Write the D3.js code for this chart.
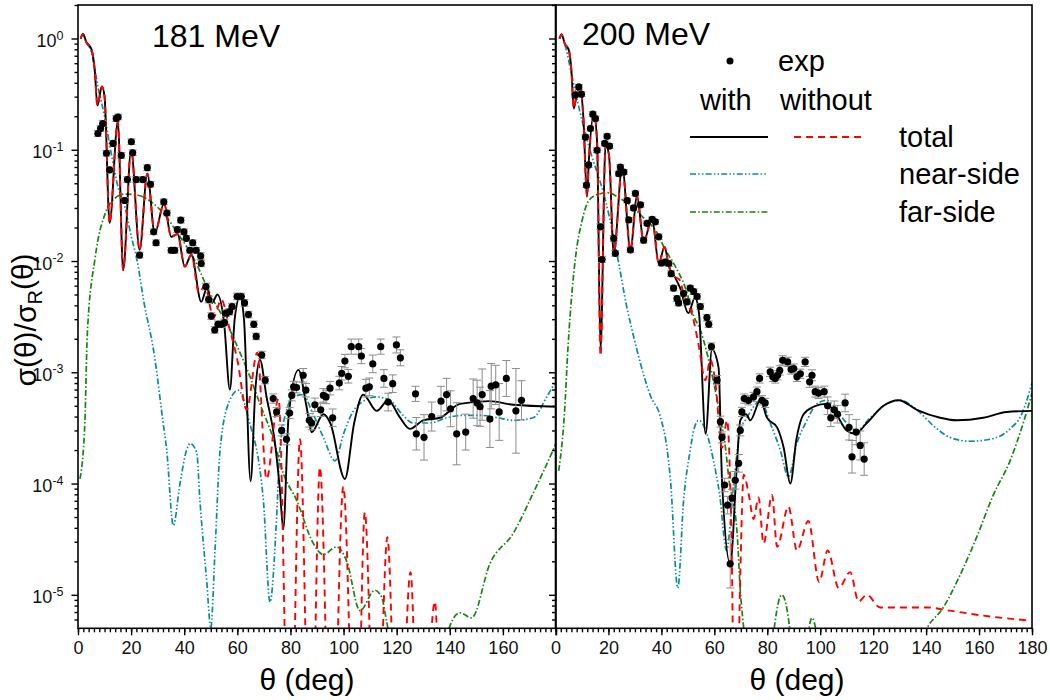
<!DOCTYPE html>
<html>
<head>
<meta charset="utf-8">
<script src="https://cdn.jsdelivr.net/npm/d3@7"></script>
<style>
  body { margin: 0; background: #fff; }
  text { font-family: "Liberation Sans", Arial, sans-serif; }
</style>
</head>
<body>
<script>
// ---- data: [theta (deg), sigma/sigmaR] ----
var with181 = [[1,1.0],[1.9,1.1],[3.1,0.93],[5,0.81],[6.3,0.52],[7.3,0.25],[9,0.37],[10,0.30],[11.9,0.022],[15,0.178],[17,0.0083],[20,0.099],[23.2,0.0126],[26.1,0.061],[28.9,0.0177],[32.4,0.033],[35.1,0.0165],[37.5,0.0175],[40.2,0.0089],[42.7,0.0114],[46.4,0.0043],[48.5,0.0057],[50.5,0.0042],[52.5,0.0050],[55,0.0028],[57.2,0.0007],[59,0.0030],[61,0.0048],[62.5,0.0030],[65,1.05e-4],[66.8,7e-4],[68.5,0.0013],[71,6e-4],[74,2.5e-4],[76,9e-5],[77.3,3.9e-5],[79.3,4e-4],[83,1.05e-3],[86,5e-4],[88,2.9e-4],[92.4,4.2e-4],[95,3.5e-4],[100.5,1.1e-4],[104,3.5e-4],[107.4,6.3e-4],[112.5,4.5e-4],[116.8,5.6e-4],[121,4e-4],[125,3.1e-4],[130,3.7e-4],[136.3,3.9e-4],[143.8,5.2e-4],[155,5.5e-4],[164,5.1e-4],[180,4.9e-4]];
var without181 = [[1,1.0],[1.9,1.1],[3.1,0.93],[5,0.81],[6.3,0.52],[7.3,0.25],[9,0.37],[10,0.30],[11.9,0.022],[15,0.178],[17,0.0083],[20,0.099],[23.2,0.0126],[26.1,0.061],[28.9,0.0177],[32.4,0.033],[35.1,0.0165],[37.5,0.0175],[40.2,0.0089],[42.7,0.0114],[45.5,0.0052],[47.8,0.0060],[51,0.0031],[54,0.0045],[57,0.0025],[60,0.0013],[63.5,4.6e-4],[67.5,0.0015],[71,1.1e-4],[75.5,5.8e-4],[79.8,1e-7],[83.6,2.5e-4],[87.6,1e-7],[91.1,1.4e-4],[95.5,1e-7],[99.9,9.4e-5],[104.7,1e-7],[108,5.5e-5],[112.2,1e-7],[116.5,3.3e-5],[120.6,1e-7],[125.2,1.6e-5],[128.8,1e-7],[134.4,8.7e-6],[137.5,1e-7],[180,1e-7]];
var near181 = [[1,1.0],[1.9,1.1],[3.1,0.93],[5,0.76],[7.5,0.37],[10,0.2],[12.5,0.093],[15.1,0.046],[17.6,0.031],[20.1,0.0165],[22.3,0.010],[24.8,0.0043],[28.6,0.0015],[32,3.6e-4],[33.4,2e-4],[35.9,4.2e-5],[38.4,1e-4],[40.9,2e-4],[42.2,2.3e-4],[44.7,1.9e-4],[45.9,7.1e-5],[48.5,1.3e-5],[50,5e-6],[51.6,2.5e-5],[53.5,2e-4],[57,5.5e-4],[60.4,6.9e-4],[64.1,3.9e-4],[69.8,7.1e-5],[72.3,8.6e-6],[74.8,5e-5],[76,2e-4],[78.6,4.6e-4],[81,6e-4],[84.8,6.3e-4],[88,4.5e-4],[92.4,2.6e-4],[96.8,1.6e-4],[100,2.8e-4],[104.9,4.9e-4],[112.4,6e-4],[117.5,5.6e-4],[122,4.2e-4],[126.2,3.5e-4],[132.5,3.5e-4],[138.8,3.9e-4],[145,4.1e-4],[151.4,4.1e-4],[158,3.9e-4],[164,3.7e-4],[171.4,3.9e-4],[176.5,6e-4],[180,8.4e-4]];
var far181 = [[0.75,1.1e-4],[2.6,3.6e-4],[3.5,0.0022],[6.4,0.0105],[8.3,0.019],[9.4,0.0234],[12.5,0.034],[17.6,0.040],[22.6,0.039],[27.6,0.034],[32.6,0.026],[37.6,0.0177],[43.9,0.0102],[50.2,0.0048],[56.5,0.0026],[61,0.0015],[64.8,9.1e-4],[68.5,5.2e-4],[73.4,2.6e-4],[77.5,1.2e-4],[82.3,7.1e-5],[88.6,2.9e-5],[92.4,2.3e-5],[97.4,2.7e-5],[101.2,2.0e-5],[106.2,7.2e-6],[111.8,1.1e-5],[114.3,9.6e-6],[116.2,5.8e-6],[120,2e-6],[130,1e-6],[137,2.5e-6],[140,5.2e-6],[143.8,6.9e-6],[148.2,6.2e-6],[155.1,1.9e-5],[164,3.6e-5],[171.4,8.2e-5],[178.9,2e-4],[180,2.3e-4]];
// exp: [theta, sigma/sigmaR, error factor]
var exp181 = [[7.5,0.140,1.06],[8.5,0.155,1.06],[9.3,0.172,1.06],[10.7,0.093,1.06],[11.9,0.066,1.06],[13.2,0.114,1.06],[14.4,0.191,1.06],[15.1,0.197,1.06],[16.3,0.089,1.06],[17.6,0.035,1.06],[18.6,0.054,1.06],[20.1,0.118,1.06],[20.6,0.094,1.06],[21.9,0.054,1.06],[23.2,0.0113,1.06],[24.4,0.054,1.06],[26.1,0.069,1.06],[27.3,0.049,1.06],[28.5,0.0183,1.06],[29.4,0.0146,1.06],[32.3,0.034,1.06],[33.5,0.027,1.06],[35.1,0.0125,1.06],[36.4,0.0125,1.06],[37.4,0.0192,1.06],[38.7,0.0233,1.06],[39.9,0.0183,1.06],[40.8,0.016,1.06],[42.1,0.0125,1.06],[43.2,0.0146,1.06],[44.5,0.0125,1.06],[46.2,0.0111,1.07],[46.4,0.0095,1.07],[48.2,0.0059,1.07],[49.2,0.0045,1.07],[50.2,0.0032,1.07],[51.5,0.0024,1.07],[52.7,0.0027,1.07],[54,0.0027,1.07],[55.2,0.0028,1.07],[55.8,0.0034,1.07],[57.1,0.0035,1.07],[58,0.0039,1.07],[59.9,0.0048,1.07],[61.5,0.0048,1.07],[62.7,0.0042,1.07],[64.2,0.0033,1.07],[66.2,0.0027,1.07],[67.1,0.0021,1.07],[69.2,0.00143,1.08],[70.5,8.5e-4,1.08],[73.5,5.8e-4,1.1],[74.8,4.4e-4,1.1],[76.7,3.0e-4,1.12],[78.5,2.5e-4,1.12],[79.7,4.3e-4,1.12],[80.5,6.2e-4,1.12],[81.2,7.4e-4,1.12],[82.3,7.3e-4,1.12],[84.8,9.4e-4,1.15],[85.8,6.9e-4,1.15],[87.1,3.7e-4,1.15],[88,3.5e-4,1.15],[89.2,5.1e-4,1.15],[91.4,4.6e-4,1.15],[92.4,6.2e-4,1.15],[93.4,6.0e-4,1.15],[94.9,7.2e-4,1.15],[95.9,3.9e-4,1.2],[98.4,8.0e-4,1.15],[99.3,9.8e-4,1.15],[100.5,1.26e-3,1.15],[101.8,9.2e-4,1.15],[102.9,1.7e-3,1.17],[105.7,1.7e-3,1.17],[106.7,1.4e-3,1.17],[108.4,7.2e-4,1.2],[109.7,7.4e-4,1.2],[111,1.19e-3,1.2],[114,1.7e-3,1.17],[115.2,8.8e-4,1.2],[116.8,5.4e-4,1.2],[118.5,7.9e-4,1.2],[119.9,1.76e-3,1.18],[121.4,1.35e-3,1.18],[127.1,6.4e-4,1.17],[127.4,2.8e-4,1.4],[130.3,2.6e-4,1.6],[133.2,4.0e-4,1.35],[136.7,5.5e-4,1.36],[138.8,6.3e-4,1.4],[140.3,4.7e-4,1.45],[142.6,2.8e-4,1.9],[146,2.9e-4,1.45],[148.8,5.8e-4,1.5],[150.3,5.3e-4,1.6],[151.4,4.9e-4,1.5],[152.2,6.3e-4,1.7],[155.1,3.8e-4,1.8],[155.6,7.5e-4,1.6],[157.3,7.7e-4,1.5],[158.6,4.4e-4,1.8],[161.3,8.8e-4,1.45],[164.9,4.5e-4,2.4],[167,5.6e-4,1.5]];

var with200 = [[1.5,1.0],[2.3,1.09],[3.5,0.9],[5,0.79],[6,0.52],[6.9,0.235],[8.2,0.33],[9.4,0.355],[10.5,0.2],[11.9,0.038],[12.6,0.08],[14.5,0.212],[15.7,0.12],[17,0.0016],[18.9,0.11],[20.2,0.09],[22,0.0117],[25.2,0.070],[28.3,0.0126],[30.8,0.038],[33.3,0.015],[36.5,0.024],[39,0.0095],[41.2,0.0134],[42.8,0.009],[45.2,0.0071],[47.1,0.0057],[50.2,0.0034],[52.7,0.0047],[54.2,0.0034],[56.7,2.8e-4],[59.1,0.0016],[61.6,0.0011],[62.9,1.07e-4],[66,1.9e-5],[68.6,1.6e-4],[69.8,3.7e-4],[72,4.2e-4],[73.6,3.7e-4],[77.4,5.6e-4],[79.9,3.9e-4],[83.7,3.2e-4],[86.2,2.1e-4],[88.7,1.0e-4],[91,2.5e-4],[93.7,4.2e-4],[97.5,4.9e-4],[101.9,5.2e-4],[105,4.6e-4],[110,3e-4],[113.2,2.8e-4],[117.6,3.5e-4],[123.9,5e-4],[129.6,5.6e-4],[136.5,4.6e-4],[145.3,3.9e-4],[151.6,3.7e-4],[161.6,3.9e-4],[170.4,4.4e-4],[180,4.5e-4]];
var without200 = [[1.5,1.0],[2.3,1.09],[3.5,0.9],[5,0.79],[6,0.52],[6.9,0.235],[8.2,0.33],[9.4,0.355],[10.5,0.2],[11.9,0.038],[12.6,0.08],[14.5,0.212],[15.7,0.12],[17,0.0014],[18.9,0.11],[20.2,0.09],[22,0.0117],[25.2,0.070],[28.3,0.0126],[30.8,0.038],[33.3,0.015],[36.5,0.024],[39,0.0095],[41.2,0.0134],[42.8,0.009],[45.2,0.0072],[46.8,0.0068],[49,0.0045],[51.6,0.0033],[54,0.0018],[56.6,8.5e-4],[58.5,0.0013],[60.4,8e-4],[62.9,2.1e-4],[64.8,3.7e-4],[66.5,3e-5],[68,1e-7],[69.8,1.5e-5],[71.1,1.2e-4],[73,8e-5],[74.8,4.8e-5],[76.7,7.5e-5],[78.6,2.9e-5],[81.8,7.9e-5],[83.7,2.7e-5],[88,6.2e-5],[91.2,2.5e-5],[95.5,4.6e-5],[99.6,1.3e-5],[102.8,2.5e-5],[107,1.15e-5],[111.3,1.6e-5],[114.5,8.7e-6],[117.6,1e-5],[122.6,7.7e-6],[130.2,7.7e-6],[140.3,7.7e-6],[149,7.2e-6],[161.6,6.5e-6],[178,5.9e-6]];
var near200 = [[1.5,1.0],[2.3,1.09],[3.8,0.84],[6.3,0.45],[8.8,0.243],[11.3,0.14],[13.8,0.086],[16.3,0.057],[18.9,0.035],[21.4,0.019],[23.9,0.0095],[26.8,0.0040],[29.5,0.0021],[32.1,0.0012],[35.8,6.2e-4],[39.6,4e-4],[42.2,2e-4],[43.4,1.1e-4],[46.2,1.15e-5],[48.4,7.1e-5],[50.9,2e-4],[52.2,3e-4],[54.1,3.7e-4],[57.2,2.8e-4],[59.7,1.6e-4],[62,8e-5],[64.6,2.5e-5],[67.3,1e-4],[69.8,3e-4],[72.3,3.9e-4],[74.8,4.9e-4],[77.4,5.6e-4],[81.1,3.5e-4],[84.9,2e-4],[88,1.15e-4],[91.2,2.3e-4],[95,3.7e-4],[98.7,5.2e-4],[102.5,5.6e-4],[105,5e-4],[110,3.5e-4],[113.8,3e-4],[118.9,3.9e-4],[125.2,5.2e-4],[130.2,5.6e-4],[136.5,4.6e-4],[142.8,3.3e-4],[149,2.6e-4],[156.6,2.4e-4],[164.2,2.5e-4],[171.7,3.1e-4],[176.1,4.2e-4],[180,8e-4]];
var far200 = [[1.2,1.3e-4],[3.3,4e-4],[4.8,0.0018],[6.3,0.0055],[7.5,0.0105],[10.1,0.0234],[12.6,0.035],[16.3,0.040],[20.1,0.041],[23.9,0.037],[28.9,0.031],[34,0.0234],[37.7,0.019],[41.5,0.0126],[45.3,0.0089],[49,0.0058],[52.2,0.0032],[54.7,0.0024],[57.2,0.0015],[59.7,8.2e-4],[62.3,3.9e-4],[64.2,2.1e-4],[65.4,1.15e-4],[68.6,3.6e-5],[69.8,1.1e-5],[71.3,4.5e-6],[74,1e-6],[80,1e-6],[82.4,4.5e-6],[85.5,1e-5],[88.7,4.5e-6],[91,1e-6],[94,1e-6],[95.6,4.6e-6],[96.9,6.2e-6],[98.5,4.6e-6],[101,1e-6],[130,1e-6],[140.3,5e-6],[146.5,7.7e-6],[152.8,1.5e-5],[159.1,3.3e-5],[165.4,7.9e-5],[171.7,1.6e-4],[176.7,3.5e-4],[180,6.5e-4]];
var exp200 = [[7.4,0.31,1.05],[8.8,0.367,1.05],[9.8,0.316,1.05],[11.3,0.130,1.05],[11.7,0.048,1.05],[12.5,0.073,1.05],[13.2,0.155,1.05],[14.1,0.209,1.05],[15.1,0.191,1.05],[15.7,0.099,1.05],[17,0.0203,1.06],[17.6,0.0103,1.06],[18.6,0.114,1.05],[19.5,0.132,1.05],[20.4,0.108,1.05],[22,0.016,1.06],[22.6,0.0117,1.06],[23.9,0.061,1.05],[24.5,0.070,1.05],[25.8,0.063,1.05],[27.1,0.035,1.05],[27.7,0.0234,1.05],[28.3,0.0126,1.06],[29.5,0.030,1.05],[30.2,0.0405,1.05],[32.1,0.032,1.05],[33.3,0.0154,1.06],[34.6,0.0218,1.05],[36.5,0.0237,1.05],[37.7,0.0225,1.05],[39,0.0165,1.06],[40,0.0096,1.06],[41.5,0.0098,1.06],[42.8,0.0095,1.06],[43.7,0.0077,1.06],[44.6,0.0057,1.06],[45.9,0.0046,1.06],[46.5,0.0042,1.06],[48.4,0.0051,1.06],[49.7,0.0043,1.06],[50.9,0.0057,1.06],[52.2,0.0053,1.06],[53.5,0.0048,1.06],[54.7,0.0039,1.06],[57.2,0.0031,1.07],[57.9,0.0027,1.07],[58.9,0.0017,1.08],[61,8.5e-4,1.1],[62.3,3.6e-4,1.12],[62.9,2.6e-4,1.12],[63.9,9.7e-5,1.15],[65,6.4e-5,1.2],[66,1.9e-5,1.65],[66.7,7.4e-5,1.2],[67.9,1.07e-4,1.2],[69.2,1.52e-4,1.2],[69.8,3.0e-4,1.12],[70.4,4.4e-4,1.1],[71.3,5.8e-4,1.1],[72.9,5.6e-4,1.1],[74.8,6.0e-4,1.1],[76.1,6.7e-4,1.1],[77.1,8.8e-4,1.1],[78,5.6e-4,1.1],[79.2,5.3e-4,1.1],[81.1,1.01e-3,1.1],[82.1,9.1e-4,1.1],[83,8.8e-4,1.1],[83.9,9.4e-4,1.1],[84.7,1.04e-3,1.1],[85.8,1.28e-3,1.1],[87.7,1.24e-3,1.1],[89,1.06e-3,1.1],[90,1.08e-3,1.1],[91.2,9.1e-4,1.1],[92.5,9.7e-4,1.1],[94.3,1.24e-3,1.1],[96,8.2e-4,1.12],[96.9,9.4e-4,1.12],[98.1,6.7e-4,1.12],[99.4,6.5e-4,1.12],[101.5,6.7e-4,1.12],[102.8,5.0e-4,1.2],[104,3.9e-4,1.2],[105.3,4.6e-4,1.2],[106.5,4.2e-4,1.2],[109.4,5.3e-4,1.2],[110.9,3.2e-4,1.3],[112,1.74e-4,1.4],[113.6,2.9e-4,1.3],[115.1,2.2e-4,1.35],[116.6,1.66e-4,1.4]];

var titles = ["181 MeV", "200 MeV"];
var xMajor = [0, 20, 40, 60, 80, 100, 120, 140, 160, 180];
var yMajor = [1e-5, 1e-4, 1e-3, 1e-2, 1e-1, 1];

// ---- layout ----
var width = 1050, height = 700;
var plotTop = 5, plotBottom = 628.3;

var svg = d3.select("body").append("svg")
    .attr("width", width)
    .attr("height", height);

var y = d3.scaleLog().domain([5e-6, 2]).range([plotBottom, plotTop]);

// minor ticks
var xMinor = d3.range(0, 181, 2);
var yMinor = [];
[-6, -5, -4, -3, -2, -1, 0].forEach(function(e) {
  for (var m = 2; m <= 9; m++) {
    var v = m * Math.pow(10, e);
    if (v >= 5e-6 && v <= 2) yMinor.push(v);
  }
});

var panels = [
  {x0: 78, x1: 556, title: titles[0], tx: 152, ty: 47, lines: [near181, far181, with181, without181], exp: exp181, last: false},
  {x0: 555.5, x1: 1032, title: titles[1], tx: 582, ty: 45, lines: [near200, far200, with200, without200], exp: exp200, last: true}
];

var styles = [
  {stroke: "#0a8f8f", width: 1.7, dash: "6,2.2,1.5,2.2,1.5,2.2"},
  {stroke: "#13870f", width: 1.7, dash: "6,2.2,1.5,2.2"},
  {stroke: "#000", width: 1.9, dash: null},
  {stroke: "#ff0000", width: 1.9, dash: "7,5"}
];

panels.forEach(function(p, i) {
  var x = d3.scaleLinear().domain([0, 180]).range([p.x0, p.x1]);

  var clipId = "clip" + i;
  svg.append("clipPath").attr("id", clipId)
    .append("rect")
      .attr("x", p.x0).attr("y", plotTop)
      .attr("width", p.x1 - p.x0).attr("height", plotBottom - plotTop);

  var plot = svg.append("g").attr("clip-path", "url(#" + clipId + ")");

  var line = d3.line()
      .x(function(d) { return x(d[0]); })
      .y(function(d) { return y(d[1]); })
      .curve(d3.curveMonotoneX);

  p.lines.forEach(function(data, k) {
    plot.append("path")
        .datum(data)
        .attr("fill", "none")
        .attr("stroke", styles[k].stroke)
        .attr("stroke-width", styles[k].width)
        .attr("stroke-dasharray", styles[k].dash)
        .attr("d", line);
  });

  // error bars
  var eb = plot.append("g").attr("stroke", "#8c8c8c").attr("stroke-width", 1);
  p.exp.forEach(function(d) {
    var cx = x(d[0]), lo = y(d[1] / d[2]), hi = y(d[1] * d[2]);
    eb.append("line").attr("x1", cx).attr("x2", cx).attr("y1", lo).attr("y2", hi);
    eb.append("line").attr("x1", cx - 4).attr("x2", cx + 4).attr("y1", lo).attr("y2", lo);
    eb.append("line").attr("x1", cx - 4).attr("x2", cx + 4).attr("y1", hi).attr("y2", hi);
  });

  plot.selectAll("circle.exp")
      .data(p.exp)
    .enter().append("circle")
      .attr("class", "exp")
      .attr("cx", function(d) { return x(d[0]); })
      .attr("cy", function(d) { return y(d[1]); })
      .attr("r", 3.6)
      .attr("fill", "#000");

  // x axis
  var xAxisMinor = svg.append("g")
      .attr("transform", "translate(0," + plotBottom + ")")
      .call(d3.axisBottom(x).tickValues(xMinor).tickSize(4).tickFormat(""));
  var xAxis = svg.append("g")
      .attr("transform", "translate(0," + plotBottom + ")")
      .call(d3.axisBottom(x).tickValues(xMajor).tickSize(7).tickPadding(6)
        .tickFormat(function(d) { return (!p.last && d == 180) ? "" : d; }));
  xAxis.selectAll("text").attr("font-size", "18px").attr("fill", "#111")
      .attr("font-family", "Liberation Sans, Arial, sans-serif");

  // y axis
  var yAxisMinor = svg.append("g")
      .attr("transform", "translate(" + p.x0 + ",0)")
      .call(d3.axisLeft(y).tickValues(yMinor).tickSize(3.5).tickFormat(""));
  var yAxis = svg.append("g")
      .attr("transform", "translate(" + p.x0 + ",0)")
      .call(d3.axisLeft(y).tickValues(yMajor).tickSize(6.5).tickPadding(8)
        .tickFormat(function(d) { return i == 0 ? "10" : ""; }));
  if (i == 0) {
    yAxis.selectAll(".tick text").each(function(d) {
      var t = d3.select(this).text(null)
          .attr("font-size", "18px").attr("fill", "#111")
          .attr("font-family", "Liberation Sans, Arial, sans-serif")
          .attr("dy", "0.45em");
      t.append("tspan").text("10");
      t.append("tspan").attr("dy", "-0.6em").attr("font-size", "12.5px")
          .text(Math.round(Math.log10(d)));
    });
  }

  [xAxisMinor, xAxis, yAxisMinor, yAxis].forEach(function(a) {
    a.select(".domain").remove();
    a.selectAll("line").attr("stroke", "#000").attr("stroke-width", 1.4);
  });

  // frame
  svg.append("rect")
      .attr("x", p.x0).attr("y", plotTop)
      .attr("width", p.x1 - p.x0).attr("height", plotBottom - plotTop)
      .attr("fill", "none").attr("stroke", "#000").attr("stroke-width", 1.6);

  svg.append("text")
      .attr("x", p.tx).attr("y", p.ty)
      .attr("font-size", "32px")
      .text(p.title);

  svg.append("text")
      .attr("x", i == 0 ? 307 : 797).attr("y", 690)
      .attr("text-anchor", "middle")
      .attr("font-size", "30px")
      .text("θ (deg)");
});

// y label
var yl = svg.append("text")
    .attr("transform", "translate(36,320) rotate(-90)")
    .attr("text-anchor", "middle")
    .attr("font-size", "30px");
yl.append("tspan").text("σ(θ)/σ");
yl.append("tspan").attr("font-size", "20px").attr("dy", "0.3em").text("R");
yl.append("tspan").attr("dy", "-0.3em").text("(θ)");

// legend
var lg = svg.append("g").attr("font-size", "29px");
lg.append("circle").attr("cx", 730).attr("cy", 61).attr("r", 3.5).attr("fill", "#000");
lg.append("text").attr("x", 778).attr("y", 71).text("exp");
lg.append("text").attr("x", 700).attr("y", 110).text("with");
lg.append("text").attr("x", 780).attr("y", 110).text("without");

var legendRows = [
  {y: 137, label: "total", left: styles[2], right: styles[3]},
  {y: 174, label: "near-side", left: styles[0], right: null},
  {y: 212, label: "far-side", left: styles[1], right: null}
];
legendRows.forEach(function(r) {
  lg.append("line").attr("x1", 690).attr("x2", 768).attr("y1", r.y).attr("y2", r.y)
      .attr("stroke", r.left.stroke).attr("stroke-width", r.left.width)
      .attr("stroke-dasharray", r.left.dash);
  if (r.right) {
    lg.append("line").attr("x1", 794).attr("x2", 866).attr("y1", r.y).attr("y2", r.y)
        .attr("stroke", r.right.stroke).attr("stroke-width", r.right.width)
        .attr("stroke-dasharray", r.right.dash);
  }
  lg.append("text").attr("x", 899).attr("y", r.y + 10).text(r.label);
});
</script>
</body>
</html>
